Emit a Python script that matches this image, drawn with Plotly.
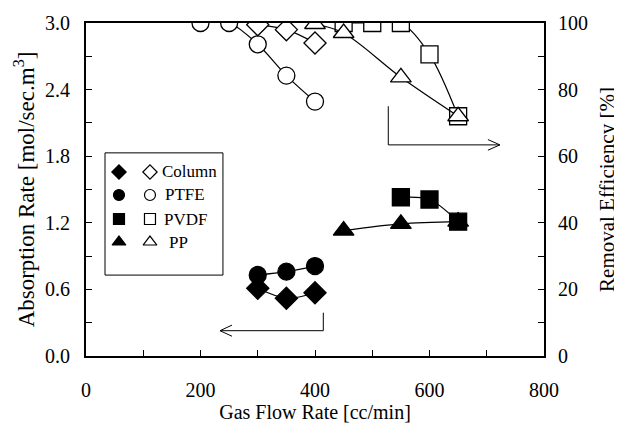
import plotly.graph_objects as go

# ---------------- data ----------------
flow_column = [300, 350, 400]
abs_column = [0.61, 0.52, 0.57]
eff_column = [99.5, 98.0, 94.0]

flow_ptfe_abs = [300, 350, 400]
abs_ptfe = [0.73, 0.76, 0.81]
flow_ptfe_eff = [200, 250, 300, 350, 400]
eff_ptfe = [100.0, 100.0, 93.6, 84.2, 76.4]

flow_pvdf_abs = [550, 600, 650]
abs_pvdf = [1.43, 1.41, 1.21]
flow_pvdf_eff = [450, 500, 550, 600, 650]
eff_pvdf = [100.0, 100.0, 100.0, 90.6, 72.0]

flow_pp_abs = [450, 550, 650]
abs_pp = [1.13, 1.19, 1.21]
flow_pp_eff = [400, 450, 550, 650]
eff_pp = [99.7, 97.0, 83.7, 72.0]

legend_names = ["Column", "PTFE", "PVDF", "PP"]
symbols = ["diamond", "circle", "square", "triangle-up"]

x_tickvals = [0, 200, 400, 600, 800]
y_tickvals = [0.0, 0.6, 1.2, 1.8, 2.4, 3.0]
y2_tickvals = [0, 20, 40, 60, 80, 100]

FONT = "Liberation Serif"
SIZES = {"diamond": 17, "circle": 17, "square": 17, "triangle-up": 18}

fig = go.Figure()


def add_series(x, y, symbol, filled, axis):
    fig.add_trace(go.Scatter(
        x=x, y=y, mode="lines+markers", yaxis=axis,
        line=dict(color="black", width=1.2, shape="spline", smoothing=0.9),
        marker=dict(symbol=symbol, size=SIZES[symbol],
                    color="black" if filled else "white",
                    line=dict(color="black", width=1.3)),
        showlegend=False, hoverinfo="skip"))


# efficiency (open markers, right axis)
add_series(flow_ptfe_eff, eff_ptfe, "circle", False, "y2")
add_series(flow_column, eff_column, "diamond", False, "y2")
add_series(flow_pvdf_eff, eff_pvdf, "square", False, "y2")
add_series(flow_pp_eff, eff_pp, "triangle-up", False, "y2")
# absorption rate (filled markers, left axis)
add_series(flow_column, abs_column, "diamond", True, "y")
add_series(flow_ptfe_abs, abs_ptfe, "circle", True, "y")
add_series(flow_pvdf_abs, abs_pvdf, "square", True, "y")
add_series(flow_pp_abs, abs_pp, "triangle-up", True, "y")

# ---------------- manual legend on an overlay 0..1 axis ----------------
LEG = dict(x0=0.0415, x1=0.299, y0=0.243, y1=0.610,
           rows=[0.5526, 0.4835, 0.4114, 0.3423],
           x_filled=0.072, x_open=0.1397, x_text=[0.161, 0.169, 0.165, 0.177])
for i, (name, sym) in enumerate(zip(legend_names, symbols)):
    for filled, xx in ((True, LEG["x_filled"]), (False, LEG["x_open"])):
        fig.add_trace(go.Scatter(
            x=[xx], y=[LEG["rows"][i]], mode="markers", xaxis="x3", yaxis="y3",
            marker=dict(symbol=sym, size=11 if sym != "triangle-up" else 12,
                        color="black" if filled else "white",
                        line=dict(color="black", width=1.2)),
            showlegend=False, hoverinfo="skip"))
    fig.add_annotation(x=LEG["x_text"][i], y=LEG["rows"][i], xref="paper", yref="paper",
                       text=name, showarrow=False, xanchor="left", yanchor="middle",
                       font=dict(family=FONT, size=17, color="black"))
fig.add_shape(type="rect", xref="paper", yref="paper",
              x0=LEG["x0"], x1=LEG["x1"], y0=LEG["y0"], y1=LEG["y1"],
              line=dict(color="black", width=1))

# ---------------- arrows ----------------
# right arrow (points to the efficiency axis)
RA = dict(x0=528, x1=723, ytop=75.0, y=63.4, hx=21, hy=1.6)
fig.add_shape(type="line", xref="x", yref="y2", x0=RA["x0"], x1=RA["x0"], y0=RA["ytop"], y1=RA["y"],
              line=dict(color="black", width=1))
fig.add_shape(type="line", xref="x", yref="y2", x0=RA["x0"], x1=RA["x1"], y0=RA["y"], y1=RA["y"],
              line=dict(color="black", width=1))
for s in (1, -1):
    fig.add_shape(type="line", xref="x", yref="y2", x0=RA["x1"] - RA["hx"], x1=RA["x1"],
                  y0=RA["y"] + s * RA["hy"], y1=RA["y"], line=dict(color="black", width=1))
# left arrow (points to the absorption axis)
LA = dict(x0=414.5, x1=234, ytop=0.39, y=0.228, hx=21, hy=0.05)
fig.add_shape(type="line", xref="x", yref="y", x0=LA["x0"], x1=LA["x0"], y0=LA["ytop"], y1=LA["y"],
              line=dict(color="black", width=1))
fig.add_shape(type="line", xref="x", yref="y", x0=LA["x0"], x1=LA["x1"], y0=LA["y"], y1=LA["y"],
              line=dict(color="black", width=1))
for s in (1, -1):
    fig.add_shape(type="line", xref="x", yref="y", x0=LA["x1"] + LA["hx"], x1=LA["x1"],
                  y0=LA["y"] + s * LA["hy"], y1=LA["y"], line=dict(color="black", width=1))

axis_common = dict(showline=True, linecolor="black", linewidth=2, ticks="inside",
                   ticklen=6, tickwidth=1.2, tickcolor="black", showgrid=False,
                   zeroline=False, automargin=False,
                   tickfont=dict(family=FONT, size=20, color="black"))

# the page body has an 8px default margin, so the figure is 8px smaller
fig.update_layout(
    width=614, height=415,
    margin=dict(l=78, r=78, t=15, b=67),
    paper_bgcolor="white", plot_bgcolor="white",
    font=dict(family=FONT, color="black"),
    xaxis=dict(range=[0, 800], tickvals=x_tickvals, mirror=True,
               minor=dict(dtick=100, ticks="inside", ticklen=6, tickwidth=1.2, tickcolor="black"),
               ticklabelstandoff=15,
               title=dict(text="Gas Flow Rate [cc/min]", font=dict(family=FONT, size=20), standoff=3),
               **axis_common),
    yaxis=dict(range=[0, 3.0], tickvals=y_tickvals, tickformat=".1f",
               minor=dict(dtick=0.3, ticks="inside", ticklen=6, tickwidth=1.2, tickcolor="black"),
               ticklabelstandoff=10,
               title=dict(text="Absorption Rate [mol/sec.m<sup>3</sup>]", font=dict(family=FONT, size=23), standoff=4),
               **axis_common),
    yaxis2=dict(range=[0, 100], tickvals=y2_tickvals, overlaying="y", side="right",
                minor=dict(dtick=10, ticks="inside", ticklen=6, tickwidth=1.2, tickcolor="black"),
                ticklabelstandoff=8,
                title=dict(text="Removal Efficiency [%]", font=dict(family=FONT, size=21), standoff=12),
                **axis_common),
    xaxis3=dict(overlaying="x", range=[0, 1], visible=False),
    yaxis3=dict(overlaying="y", range=[0, 1], visible=False),
)

fig.write_html("out.html")
